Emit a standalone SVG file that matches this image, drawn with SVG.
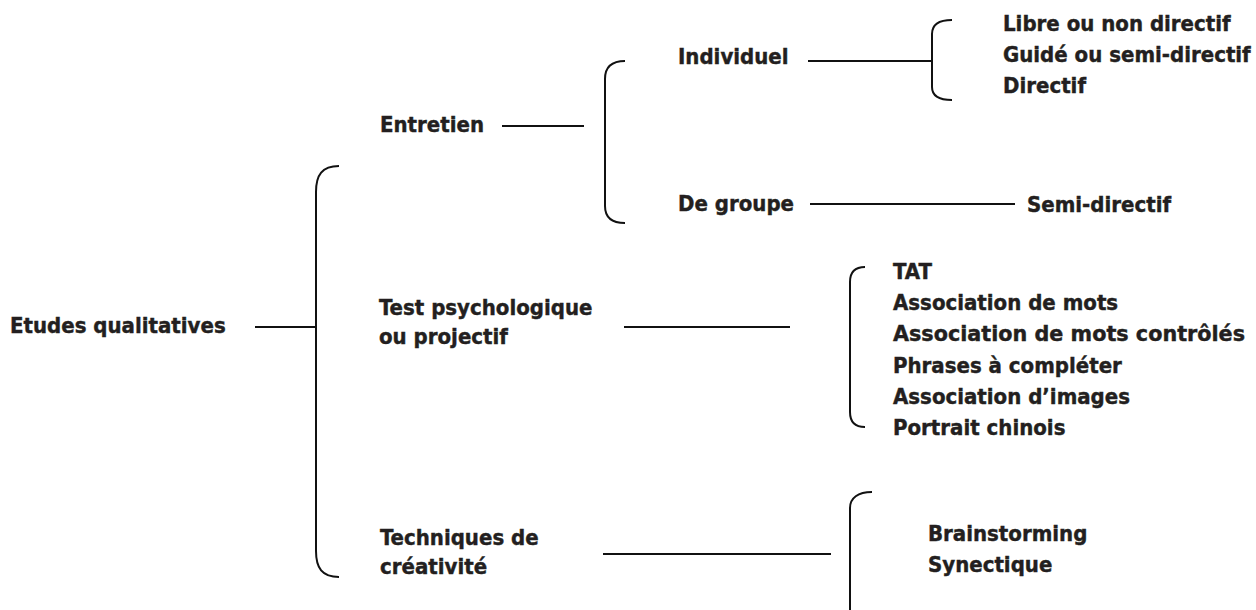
<svg xmlns="http://www.w3.org/2000/svg" width="1256" height="610" viewBox="0 0 1256 610">
  <style>
    .t { font-family: "DejaVu Sans Condensed", "DejaVu Sans", sans-serif; font-stretch: condensed; font-weight: bold; font-size: 22px; fill: #231f20; stroke: #231f20; stroke-width: 0.4px; }
    .ln { stroke: #111; stroke-width: 2; fill: none; }
    .br { stroke: #111; stroke-width: 2; fill: none; }
  </style>
  <rect width="1256" height="610" fill="#fff"/>

  <!-- connectors: horizontal links and braces -->
  <g id="connectors">
    <line class="ln" x1="255" y1="327" x2="316" y2="327"/>
    <path class="br" d="M339,166 C322,166 316,175 316,192 V551 C316,568 322,577 339,577"/>

    <line class="ln" x1="502" y1="126" x2="584" y2="126"/>
    <path class="br" d="M625,61 C611,61 605,67 605,79 V206 C605,217 611,223 625,223"/>

    <line class="ln" x1="808" y1="61" x2="932" y2="61"/>
    <path class="br" d="M952,20 C938,20 932,25 932,34 V87 C932,95 938,100 952,100"/>

    <line class="ln" x1="810" y1="204" x2="1015" y2="204"/>

    <line class="ln" x1="624" y1="327" x2="790" y2="327"/>
    <path class="br" d="M865,267 C855,267 850,272 850,282 V412 C850,422 855,427 865,427"/>

    <line class="ln" x1="603" y1="554" x2="831" y2="554"/>
    <path class="br" d="M872,492 C858,492 850,498 850,508 V610"/>
  </g>

  <g id="root">
    <text class="t" x="10" y="333">Etudes qualitatives</text>
  </g>

  <g id="entretien">
    <text class="t" x="380" y="132">Entretien</text>
  </g>
  <g id="individuel">
    <text class="t" x="678" y="64">Individuel</text>
  </g>
  <g id="individuel-types">
    <text class="t" x="1003" y="31">Libre ou non directif</text>
    <text class="t" x="1003" y="62">Guidé ou semi-directif</text>
    <text class="t" x="1003" y="93">Directif</text>
  </g>
  <g id="groupe">
    <text class="t" x="678" y="211">De groupe</text>
  </g>
  <g id="groupe-type">
    <text class="t" x="1027" y="212">Semi-directif</text>
  </g>

  <g id="test">
    <text class="t" x="379" y="315">Test psychologique</text>
    <text class="t" x="379" y="344">ou projectif</text>
  </g>
  <g id="test-types">
    <text class="t" x="893" y="279">TAT</text>
    <text class="t" x="893" y="310">Association de mots</text>
    <text class="t" x="893" y="341" textLength="352" lengthAdjust="spacingAndGlyphs">Association de mots contrôlés</text>
    <text class="t" x="893" y="373">Phrases à compléter</text>
    <text class="t" x="893" y="404">Association d’images</text>
    <text class="t" x="893" y="435">Portrait chinois</text>
  </g>

  <g id="creativite">
    <text class="t" x="380" y="545">Techniques de</text>
    <text class="t" x="380" y="574">créativité</text>
  </g>
  <g id="creativite-types">
    <text class="t" x="928" y="541">Brainstorming</text>
    <text class="t" x="928" y="572">Synectique</text>
  </g>
</svg>
